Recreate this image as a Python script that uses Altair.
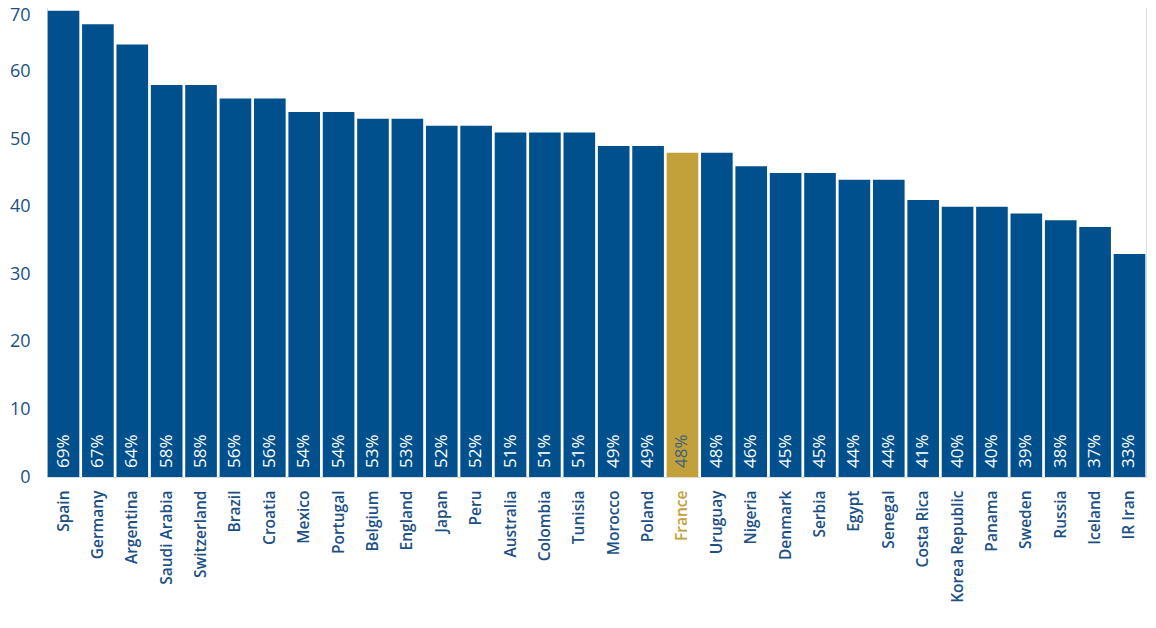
import altair as alt
import pandas as pd

countries = ["Spain", "Germany", "Argentina", "Saudi Arabia", "Switzerland", "Brazil",
             "Croatia", "Mexico", "Portugal", "Belgium", "England", "Japan", "Peru",
             "Australia", "Colombia", "Tunisia", "Morocco", "Poland", "France", "Uruguay",
             "Nigeria", "Denmark", "Serbia", "Egypt", "Senegal", "Costa Rica",
             "Korea Republic", "Panama", "Sweden", "Russia", "Iceland", "IR Iran"]
values = [69, 67, 64, 58, 58, 56, 56, 54, 54, 53, 53, 52, 52, 51, 51, 51, 49, 49, 48, 48,
          46, 45, 45, 44, 44, 41, 40, 40, 39, 38, 37, 33]
y_ticks = [0, 10, 20, 30, 40, 50, 60, 70]

BLUE = "#00508E"
GOLD = "#C2A13A"
TEXT = "#1B4F86"

df = pd.DataFrame({"country": countries, "value": values})
df["label"] = df["value"].astype(str) + "%"
df["hl"] = df["country"] == "France"

x = alt.X("country:N", sort=countries, title=None,
          scale=alt.Scale(paddingInner=0.08, paddingOuter=0.02),
          axis=alt.Axis(labelAngle=270, labelFontSize=15.5, labelFont="Open Sans",
                        labelFontWeight=600, labelPadding=13, ticks=False, domain=False,
                        labelColor={"expr": f"datum.value == 'France' ? '{GOLD}' : '{TEXT}'"}))

bars = alt.Chart(df).mark_bar().encode(
    x=x,
    y=alt.Y("value:Q", title=None,
            scale=alt.Scale(domain=[0, 70], nice=False),
            axis=alt.Axis(values=y_ticks, grid=False, ticks=False, domain=False,
                          labelFontSize=18, labelFont="Open Sans", labelColor=TEXT,
                          labelPadding=17,
                          labelOffset={"condition": {"test": "datum.value == 70", "value": 11},
                                       "value": 0})),
    color=alt.condition("datum.hl", alt.value(GOLD), alt.value(BLUE)),
)

labels = alt.Chart(df).mark_text(angle=270, align="left", baseline="middle", dx=9,
                                 fontSize=17, font="Open Sans").encode(
    x=alt.X("country:N", sort=countries),
    y=alt.datum(0),
    text="label:N",
    color=alt.condition("datum.hl", alt.value("#3D5F80"), alt.value("white")),
)

chart = (bars + labels).properties(
    width=1099, height=473,
    autosize=alt.AutoSizeParams(type="none"),
    padding={"left": 39, "top": -4, "right": 2, "bottom": 140},
).configure_view(stroke=None).configure(background="white")

chart.save("out.html", embed_options={"renderer": "svg", "actions": False})
